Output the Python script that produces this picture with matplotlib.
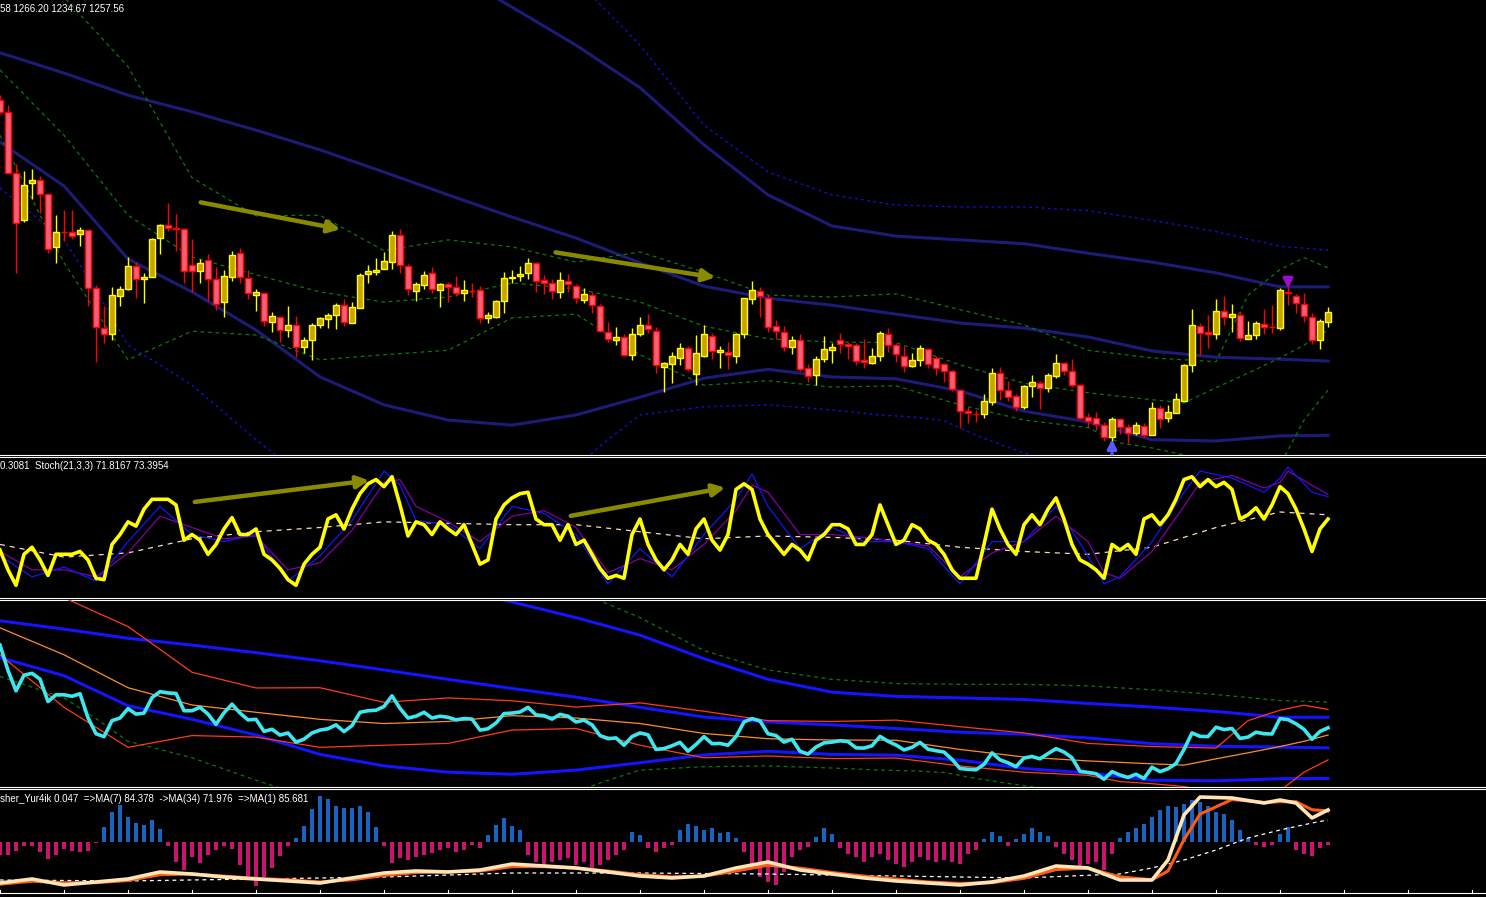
import matplotlib
matplotlib.use('Agg')
import matplotlib.pyplot as plt
from matplotlib.patches import Rectangle

# ---------------- DATA ----------------
opens = [1593,1574,1477,1403,1462,1466,1444,1361,1385,1384,
         1381,1388,1296,1233,1224,1284,1295,1331,1310,1314,
         1375,1396,1390,1389,1332,1323,1340,1310,1274,1314,
         1351,1312,1285,1288,1243,1251,1230,1238,1203,1214,
         1238,1247,1254,1269,1241,1265,1318,1321,1326,1337,
         1380,1331,1291,1301,1320,1293,1302,1298,1288,1292,
         1293,1249,1250,1276,1312,1315,1320,1336,1309,1304,
         1290,1307,1299,1277,1285,1268,1227,1214,1219,1191,
         1224,1238,1228,1172,1176,1186,1202,1161,1189,1220,
         1195,1195,1189,1224,1279,1292,1280,1236,1227,1203,
         1214,1170,1159,1184,1198,1214,1208,1206,1182,1178,
         1189,1224,1206,1189,1173,1183,1200,1186,1176,1165,
         1135,1102,1098,1097,1116,1162,1135,1126,1109,1142,
         1146,1139,1157,1178,1165,1143,1093,1091,1080,1061,
         1090,1077,1068,1079,1064,1107,1091,1099,1118,1175,
         1236,1227,1224,1260,1251,1254,1216,1222,1239,1235,
         1233,1290,1284,1271,1251,1214,1242.58]
highs = [1600,1585,1492,1481,1484,1473,1446,1411,1419,1419,
         1392,1389,1301,1268,1298,1299,1345,1337,1320,1375,
         1397,1430,1413,1391,1373,1342,1350,1329,1325,1355,
         1359,1325,1295,1289,1258,1252,1268,1252,1219,1241,
         1250,1257,1272,1279,1274,1320,1332,1344,1353,1386,
         1389,1334,1306,1323,1329,1304,1306,1315,1309,1304,
         1299,1258,1277,1321,1325,1331,1344,1337,1317,1310,
         1321,1318,1302,1296,1290,1271,1243,1235,1224,1233,
         1251,1255,1235,1180,1195,1209,1205,1222,1238,1225,
         1205,1211,1225,1280,1307,1298,1285,1246,1236,1220,
         1224,1176,1189,1220,1209,1225,1211,1209,1216,1202,
         1228,1233,1209,1205,1194,1206,1202,1189,1178,1167,
         1137,1109,1104,1129,1170,1172,1150,1129,1143,1159,
         1150,1162,1192,1180,1184,1145,1099,1101,1085,1093,
         1091,1082,1085,1083,1116,1112,1112,1131,1176,1263,
         1241,1254,1279,1284,1271,1260,1244,1244,1263,1269,
         1296,1304,1287,1288,1257,1247,1266.20]
lows = [1570,1476,1320,1400,1437,1414,1351,1336,1370,1373,
        1362,1268,1180,1210,1214,1268,1293,1280,1273,1313,
        1350,1386,1355,1304,1290,1304,1276,1262,1251,1307,
        1304,1279,1260,1236,1227,1211,1219,1187,1194,1183,
        1233,1233,1231,1236,1241,1264,1304,1317,1326,1326,
        1320,1285,1276,1295,1288,1266,1274,1284,1276,1282,
        1241,1241,1249,1257,1304,1307,1310,1290,1287,1279,
        1280,1290,1273,1273,1257,1227,1211,1206,1189,1183,
        1220,1225,1162,1132,1146,1175,1165,1143,1187,1184,
        1170,1168,1178,1217,1271,1251,1227,1216,1197,1192,
        1165,1148,1143,1180,1178,1194,1184,1175,1170,1177,
        1181,1195,1180,1164,1172,1173,1170,1159,1148,1134,
        1075,1083,1085,1091,1112,1120,1118,1102,1105,1124,
        1105,1132,1154,1159,1140,1090,1077,1072,1055,1052,
        1066,1052,1064,1061,1064,1075,1085,1099,1118,1164,
        1191,1202,1216,1238,1227,1213,1216,1216,1224,1225,
        1230,1269,1257,1243,1208,1200,1234.67]
closes = [1574,1477,1399,1459,1466,1444,1358,1384,1384,1378,
          1388,1296,1235,1224,1285,1295,1331,1310,1314,1373,
          1396,1391,1389,1323,1323,1336,1310,1271,1315,1348,
          1314,1288,1290,1244,1252,1230,1238,1203,1214,1238,
          1249,1254,1269,1243,1266,1317,1323,1325,1339,1380,
          1332,1295,1302,1317,1295,1302,1298,1288,1293,1291,
          1249,1254,1276,1312,1314,1318,1336,1307,1304,1291,
          1309,1302,1280,1287,1269,1228,1216,1219,1191,1224,
          1238,1231,1175,1178,1189,1202,1168,1194,1224,1197,
          1198,1191,1224,1280,1293,1284,1235,1228,1203,1214,
          1168,1157,1184,1200,1203,1208,1205,1181,1180,1189,
          1225,1206,1192,1173,1183,1202,1176,1170,1165,1137,
          1102,1099,1097,1118,1162,1135,1124,1109,1142,1148,
          1139,1159,1178,1165,1143,1091,1087,1082,1061,1090,
          1077,1068,1080,1064,1107,1090,1101,1121,1175,1238,
          1225,1224,1260,1251,1255,1217,1222,1241,1235,1234,
          1293,1289,1273,1252,1214,1244,1257.56]

# long-period envelope lines (navy)
env_up_idx = [48,56,64,72,80,88,96,104,112,120,128,136,144,152,160,166]
env_up_val = [1860,1798,1739,1679,1612,1522,1443,1394,1378,1372,1366,1351,1337,1320,1298,1298]
env_mid_idx = [0,8,16,24,32,40,48,56,64,72,80,88,96,104,112,120,128,136,144,152,160,166]
env_mid_val = [1667,1635,1600,1574,1545,1514,1479,1443,1408,1375,1336,1299,1280,1269,1255,1241,1233,1219,1197,1187,1184,1181]
env_lo_idx = [0,8,16,24,32,40,48,56,64,72,80,88,96,104,112,120,128,136,144,152,160,166]
env_lo_val = [1526,1457,1342,1290,1230,1156,1112,1088,1080,1096,1124,1154,1168,1156,1153,1134,1102,1085,1057,1055,1063,1064]

# outer dotted bands (blue)
dot_up_idx = [72,80,88,96,104,112,120,128,136,144,152,160,166]
dot_up_val = [1782,1679,1553,1479,1443,1427,1424,1424,1418,1403,1385,1362,1356]
dot_lo_idx = [0,8,12,16,20,24,32,40,64,76,80,88,96,104,110,114,118,122,126,130,136]
dot_lo_val = [1454,1372,1293,1206,1175,1143,1057,978,930,1057,1096,1109,1112,1104,1096,1093,1087,1064,1045,1028,1001]

# Bollinger bands (green dotted)
bb_up_idx = [0,8,16,24,32,40,48,56,64,72,80,88,96,104,112,120,128,136,144,152,156,160,163,166]
bb_up_val = [1829,1755,1645,1470,1410,1411,1355,1372,1361,1337,1353,1321,1285,1282,1287,1262,1238,1198,1186,1180,1285,1325,1344,1328]
bb_mid_idx = [0,8,16,24,32,40,48,56,64,72,80,88,96,104,112,120,128,136,144,148,152,156,160,163,166]
bb_mid_val = [1640,1537,1411,1345,1317,1290,1274,1282,1304,1295,1274,1236,1216,1211,1210,1175,1146,1131,1120,1115,1139,1162,1186,1206,1230]
bb_lo_idx = [0,8,16,24,32,40,48,56,64,72,80,88,96,104,112,120,128,136,140,144,148,152,156,160,163,166]
bb_lo_val = [1537,1336,1183,1228,1222,1183,1191,1198,1249,1255,1191,1143,1150,1140,1142,1112,1088,1076,1052,1044,1033,1009,994,1017,1088,1135]

# Stochastic panel
stoch_fast = [34,20,9,31,36,27,16,31,31,31,33,27,14,13,38,45,54,51,63,70,
              70,70,66,41,45,41,31,38,49,57,45,45,49,31,27,21,13,9,24,31,
              36,56,59,49,63,74,81,84,79,86,66,44,54,52,45,54,49,45,52,38,
              24,27,56,66,71,74,75,56,52,52,41,52,38,41,31,21,14,16,14,45,
              56,38,27,20,27,38,31,49,56,41,34,45,77,81,77,56,45,38,31,38,
              34,27,41,45,52,52,49,38,38,45,66,52,38,41,52,49,41,38,31,20,
              14,14,14,38,63,49,38,31,52,59,52,63,71,56,38,27,24,20,14,38,
              34,38,31,56,59,52,59,70,84,86,79,84,79,82,77,56,59,64,56,66,
              79,74,63,49,33,49,56]
stoch_sig_idx = [0,8,16,24,32,40,48,56,64,72,80,88,96,104,112,120,128,136,144,152,160,166]
stoch_sig_val = [38,29,32,42,47,50,54,53,52,52,47,42,44,43,41,36,33,31,36,50,61,59]
st21_idx = [0,4,8,12,16,20,24,28,32,36,40,44,48,50,52,56,60,64,68,72,76,80,84,88,92,94,96,
            100,104,108,112,116,120,124,128,132,136,138,140,144,148,150,154,158,160,161,164,166]
st21_main = [30,15,22,12,40,65,45,40,45,12,30,55,90,80,55,52,35,65,60,45,10,35,15,45,70,88,65,
             35,50,40,40,35,10,40,40,65,30,10,15,40,75,90,85,75,85,93,75,71.8167]
st21_sig = [33,20,20,15,32,58,50,42,44,20,25,48,82,84,65,54,40,58,62,50,18,28,20,38,62,80,75,
            45,45,43,40,37,15,32,40,58,40,18,14,33,65,82,87,78,82,90,80,73.3954]

# Fisher panel
fisher_hist = [-0.25,-0.25,-0.17,-0.07,-0.07,-0.19,-0.33,-0.25,-0.13,-0.17,
               -0.19,-0.17,-0.02,0.31,0.60,0.75,0.51,0.39,0.35,0.45,
               0.26,-0.07,-0.39,-0.55,-0.30,-0.41,-0.25,-0.15,-0.07,-0.13,
               -0.45,-0.75,-0.87,-0.69,-0.52,-0.27,-0.07,0.08,0.33,0.66,
               0.93,0.86,0.73,0.68,0.68,0.73,0.61,0.30,-0.07,-0.42,
               -0.32,-0.36,-0.30,-0.26,-0.22,-0.16,-0.12,-0.20,-0.16,-0.06,
               -0.12,0.14,0.34,0.48,0.32,0.24,-0.26,-0.40,-0.46,-0.40,
               -0.36,-0.32,-0.46,-0.40,-0.52,-0.46,-0.36,-0.26,-0.16,0.20,
               0.14,-0.12,-0.20,-0.12,-0.06,0.24,0.36,0.32,0.24,0.28,
               0.18,0.20,0.08,-0.20,-0.50,-0.70,-0.80,-0.86,-0.60,-0.30,
               -0.16,-0.10,0.10,0.28,0.16,-0.12,-0.24,-0.30,-0.40,-0.30,
               -0.24,-0.36,-0.44,-0.50,-0.40,-0.30,-0.36,-0.40,-0.36,-0.40,
               -0.44,-0.24,-0.16,0.06,0.20,0.12,-0.08,0.06,0.16,0.28,
               0.20,0.12,-0.10,-0.24,-0.36,-0.50,-0.44,-0.40,-0.56,-0.24,
               0.08,0.20,0.28,0.36,0.50,0.64,0.72,0.70,0.76,0.84,
               0.80,0.72,0.60,0.56,0.44,0.24,0.08,-0.06,-0.10,-0.06,
               0.16,0.30,-0.16,-0.24,-0.28,-0.12,-0.06]
ma_idx = [0,4,8,12,16,20,24,28,32,36,40,44,48,52,56,60,64,68,72,76,80,84,88,92,96,100,
          104,108,112,116,120,124,128,132,136,140,144,146,148,150,154,158,160,162,164,166]
ma1_val = [-14.4,-8.9,-17.1,-13.0,-8.9,0.7,-2.1,-6.2,-8.9,-11.6,-14.4,-7.5,-0.7,2.1,0.7,3.4,
           11.6,8.9,6.2,0.7,-4.8,-7.5,-4.8,6.2,14.4,3.4,-2.1,-7.5,-11.6,-14.4,-17.1,-13.0,
           -4.8,8.9,6.2,-10.3,-10.3,17.1,78.8,103.4,102.1,95.2,99.3,95.2,74.7,85.681]
ma7_val = [-16,-12,-14,-14,-11,-3,-2,-5,-8,-10,-13,-10,-4,0,1,2,8,8,6,2,-3,-6,-5,2,10,6,
           0,-5,-9,-13,-15,-14,-8,4,6,-6,-10,2,45,80,100,96,97,97,86,84.378]
ma34_idx = [0,16,32,48,64,80,96,112,128,140,144,148,152,156,160,164,166]
ma34_val = [-10.3,-11.6,-8.9,-6.2,-0.7,-0.7,-2.1,-4.8,-7.5,-2,6.2,17.1,30.8,47.3,58.2,67.8,71.976]

# annotations (olive arrows): (x0, y0, x1, y1)
price_arrows = [(24.75, 1432, 42.9, 1388), (69.1, 1353, 89.75, 1312)]
stoch_arrows = [(24.0, 67.9, 46.5, 83.6), (71.0, 57.9, 91.0, 78.6)]

# ---------------- FIGURE ----------------
W, H = 1486, 897
fig = plt.figure(figsize=(W / 100, H / 100), dpi=100, facecolor='black')

def make_ax(top, bottom):
    ax = fig.add_axes([0, 1 - bottom / H, 1, (bottom - top) / H])
    ax.set_facecolor('black')
    ax.set_xlim(0, W / 8)
    ax.set_xticks([]); ax.set_yticks([])
    for s in ('left', 'right'):
        ax.spines[s].set_visible(False)
    for s in ('top', 'bottom'):
        ax.spines[s].set_color('white')
        ax.spines[s].set_linewidth(0.8)
    return ax

ax1 = make_ax(0, 455)
ax2 = make_ax(457, 598)
ax3 = make_ax(600, 787)
ax4 = make_ax(789, 893)
ax1.spines['top'].set_visible(False)

ax1.set_ylim(1032.9, 1750.2)
ax3.set_ylim(1031.3, 1746.4)
ax2.set_ylim(0, 100)
ax4.set_ylim(-1.014, 1.066)

n = len(closes)
xs = list(range(n))

# ---- panel 1: candles ----
for i in range(n):
    o, h, l, c = opens[i], highs[i], lows[i], closes[i]
    bull = c >= o
    ec = '#ffff00' if bull else '#ff0000'
    fc = '#c8a400' if bull else '#f0607a'
    ax1.vlines(i, l, h, color=ec, lw=1.0, zorder=3)
    lo, hi = min(o, c), max(o, c)
    ax1.add_patch(Rectangle((i - 0.36, lo), 0.72, max(hi - lo, 0.6),
                            facecolor=fc, edgecolor=ec, lw=1.0, zorder=4))

navy = '#1c1c78'
ax1.plot(env_up_idx, env_up_val, color=navy, lw=2.2, zorder=2)
ax1.plot(env_mid_idx, env_mid_val, color=navy, lw=2.2, zorder=2)
ax1.plot(env_lo_idx, env_lo_val, color=navy, lw=2.2, zorder=2)
ax1.plot(dot_up_idx, dot_up_val, color='#1010ff', lw=0.9, ls=(0, (2, 3)), zorder=2)
ax1.plot(dot_lo_idx, dot_lo_val, color='#1010ff', lw=0.9, ls=(0, (2, 3)), zorder=2)
for ix, vals in ((bb_up_idx, bb_up_val), (bb_mid_idx, bb_mid_val), (bb_lo_idx, bb_lo_val)):
    ax1.plot(ix, vals, color='#0a7a0a', lw=0.9, ls=(0, (3, 3)), zorder=2)

for x0, y0, x1, y1 in price_arrows:
    ax1.annotate('', xy=(x1, y1), xytext=(x0, y0),
                 arrowprops=dict(arrowstyle='-|>', color='#8a8a00', lw=3.2,
                                 mutation_scale=18), zorder=5)
# signal arrows
ax1.annotate('', xy=(139, 1062), xytext=(139, 1030),
             arrowprops=dict(arrowstyle='-|>', color='#5a5aff', lw=2.2, mutation_scale=14), zorder=6)
ax1.annotate('', xy=(161, 1291), xytext=(161, 1318),
             arrowprops=dict(arrowstyle='-|>', color='#9a10d0', lw=2.2, mutation_scale=14), zorder=6)

fig.text(0.0, 1 - 9 / H, '58 1266.20 1234.67 1257.56', color='white',
         fontsize=7, family='Liberation Sans', va='center', ha='left')

# ---- panel 2: stochastic ----
ax2.plot(stoch_sig_idx, stoch_sig_val, color='#f5deb3', lw=0.9, ls=(0, (4, 4)), zorder=2)
ax2.plot(st21_idx, st21_sig, color='#8000a0', lw=0.9, zorder=3)
ax2.plot(st21_idx, st21_main, color='#1414ff', lw=0.9, zorder=3)
ax2.plot(xs, stoch_fast, color='#ffff00', lw=2.6, zorder=4)
for x0, y0, x1, y1 in stoch_arrows:
    ax2.annotate('', xy=(x1, y1), xytext=(x0, y0),
                 arrowprops=dict(arrowstyle='-|>', color='#8a8a00', lw=3.2,
                                 mutation_scale=18), zorder=5)
fig.text(0.0, 1 - 466 / H, '0.3081  Stoch(21,3,3) 71.8167 73.3954', color='white',
         fontsize=7, family='Liberation Sans', va='center', ha='left')

# ---- panel 3: price overlay ----
ax3.plot(env_up_idx, env_up_val, color='#1414ff', lw=2.2, zorder=2)
ax3.plot(env_mid_idx, env_mid_val, color='#1414ff', lw=2.2, zorder=2)
ax3.plot(env_lo_idx, env_lo_val, color='#1414ff', lw=2.2, zorder=2)
ax3.plot(dot_up_idx, dot_up_val, color='#0a7a0a', lw=0.9, ls=(0, (3, 3)), zorder=2)
ax3.plot(dot_lo_idx, dot_lo_val, color='#0a7a0a', lw=0.9, ls=(0, (3, 3)), zorder=2)
ax3.plot(bb_up_idx, bb_up_val, color='#ff3c14', lw=0.9, zorder=3)
ax3.plot(bb_mid_idx, bb_mid_val, color='#ff8c28', lw=0.9, zorder=3)
ax3.plot(bb_lo_idx, bb_lo_val, color='#ff3c14', lw=0.9, zorder=3)
ax3.plot(xs, closes, color='#3ee6f0', lw=2.6, zorder=4)

# ---- panel 4: fisher ----
cols = ['#1a62c0' if v >= 0 else '#c8146e' for v in fisher_hist]
ax4.bar(xs, fisher_hist, width=0.42, color=cols, zorder=2)
ax4b = ax4.twinx()
ax4b.set_ylim(-28.1, 114.4)
ax4b.set_xlim(0, W / 8)
ax4b.axis('off')
ax4b.plot(ma34_idx, ma34_val, color='white', lw=0.9, ls=(0, (3, 3)), zorder=2)
ax4b.plot(ma_idx, ma7_val, color='#ff5a14', lw=2.2, zorder=3)
ax4b.plot(ma_idx, ma1_val, color='#ffe4b5', lw=2.6, zorder=4)
for k in range(0, 186, 8):
    ax4.plot([k, k], [-1.014, -0.96], color='white', lw=0.8, clip_on=False)
fig.text(0.0, 1 - 799 / H,
         'sher_Yur4ik 0.047  =>MA(7) 84.378  ->MA(34) 71.976  =>MA(1) 85.681',
         color='white', fontsize=7, family='Liberation Sans', va='center', ha='left')

fig.savefig('out.png', dpi=100, facecolor='black')
